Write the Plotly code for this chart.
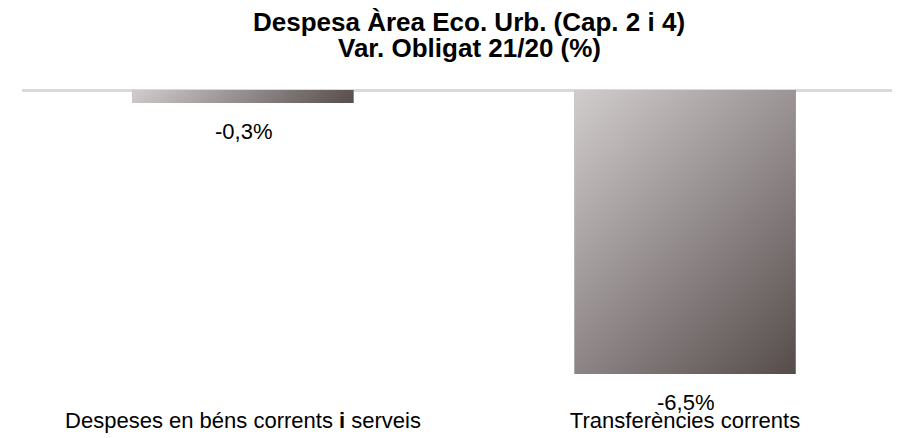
import plotly.graph_objects as go

# ---- data ----
categories = ["Despeses en béns corrents <b>i</b> serveis", "Transferències corrents"]
values = [-0.3, -6.5]
title_line1 = "Despesa Àrea Eco. Urb. (Cap. 2 i 4)"
title_line2 = "Var. Obligat 21/20 (%)"

# ---- style ----
LIGHT = "rgb(210,205,205)"
DARK = "rgb(86,76,76)"
MID = "rgb(148,140,140)"
FONT = "Liberation Sans, Arial, sans-serif"
BAR_W = 0.5
PX_PER_CAT = 442.0   # approx pixel size of one category unit
PX_PER_PCT = 43.7    # approx pixel size of one percent unit
ML, MR, MT, MB = 14, 0, 81, 41
W, H = 900, 438

xpos = list(range(len(categories)))

fig = go.Figure()

# base bars
fig.add_trace(go.Bar(x=xpos, y=values, width=BAR_W, marker=dict(color=MID, line=dict(width=0)),
                     hoverinfo="skip", showlegend=False))

# diagonal gradient overlay: horizontal gradient + vertical gradient blended
for i, v in zip(xpos, values):
    xs = [i - BAR_W / 2, i + BAR_W / 2, i + BAR_W / 2, i - BAR_W / 2, i - BAR_W / 2]
    ys = [0, 0, v, v, 0]
    wpx = BAR_W * PX_PER_CAT
    hpx = abs(v) * PX_PER_PCT
    alpha = hpx / (wpx + hpx)
    fig.add_trace(go.Scatter(
        x=xs, y=ys, mode="lines", fill="toself", line=dict(width=0),
        fillgradient=dict(type="horizontal", colorscale=[[0, LIGHT], [1, DARK]]),
        hoverinfo="skip", showlegend=False))
    fig.add_trace(go.Scatter(
        x=xs, y=ys, mode="lines", fill="toself", line=dict(width=0),
        fillgradient=dict(type="vertical", colorscale=[[0, DARK], [1, LIGHT]]),
        opacity=alpha, hoverinfo="skip", showlegend=False))

# value labels
for i, v in zip(xpos, values):
    fig.add_annotation(x=i, y=v, xref="x", yref="y", showarrow=False,
                       text=f"{v:.1f}".replace(".", ",") + "%",
                       yanchor="top", yshift=-14,
                       font=dict(family=FONT, size=22, color="#000000"))

# title lines
fig.add_annotation(x=0.5, y=1, xref="paper", yref="paper", showarrow=False,
                   text=f"<b>{title_line1}</b>", yanchor="middle", yshift=67, xshift=4,
                   font=dict(family=FONT, size=26, color="#000000"))
fig.add_annotation(x=0.5, y=1, xref="paper", yref="paper", showarrow=False,
                   text=f"<b>{title_line2}</b>", yanchor="middle", yshift=41, xshift=4,
                   font=dict(family=FONT, size=26, color="#000000"))

plot_w = W - ML - MR
plot_h = H - MT - MB

fig.update_layout(
    width=W, height=H,
    margin=dict(l=ML, r=MR, t=MT, b=MB),
    paper_bgcolor="white", plot_bgcolor="white",
    barmode="overlay",
    xaxis=dict(range=[-0.5, -0.5 + plot_w / PX_PER_CAT], tickmode="array", tickvals=xpos,
               ticktext=categories, showgrid=False, zeroline=False, showline=False,
               ticks="", tickfont=dict(family=FONT, size=22, color="#000000")),
    yaxis=dict(range=[-(plot_h - 1) / PX_PER_PCT, 1 / PX_PER_PCT], showgrid=False,
               showticklabels=False, zeroline=True, zerolinecolor="#d9d9d9",
               zerolinewidth=2.5, showline=False, ticks=""),
    showlegend=False,
)

fig.write_html("out.html")
